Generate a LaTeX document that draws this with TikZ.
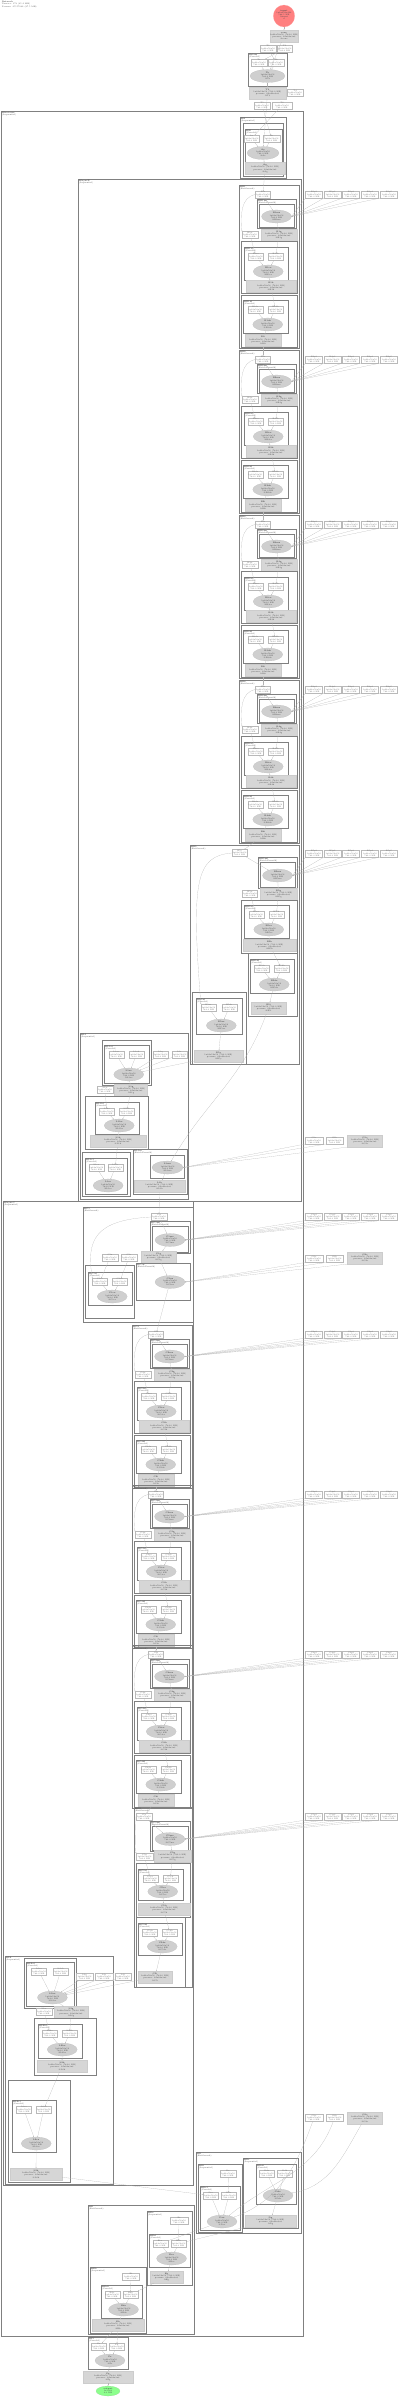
\documentclass[tikz,border=0pt]{standalone}
\usetikzlibrary{shapes.geometric,arrows.meta}
\tikzset{lbl/.style={font=\fontsize{2}{2.2}\selectfont,inner sep=0.3pt,align=center,text=black!70},
    wbox/.style={lbl,rectangle,draw=gray!55,fill=white,line width=0.12pt,text=black!55,
    minimum height=7pt,minimum width=#1pt},wbox/.default=16,
    gbox/.style={lbl,rectangle,draw=gray!40,fill=gray!32,line width=0.12pt,
    minimum height=12pt,minimum width=#1pt},gbox/.default=36,
    opnode/.style={lbl,ellipse,draw=gray!55,fill=gray!38,line width=0.12pt,
    inner sep=0pt,minimum height=13pt,minimum width=#1pt},opnode/.default=30,
    clus/.style={draw=black!50,line width=0.4pt},
    clabel/.style={lbl,anchor=north west,align=left,inner sep=0.6pt},
    edge/.style={-{Stealth[length=1pt,width=0.8pt]},draw=gray!60,line width=0.15pt}}
% boxes, ellipses and clusters
\newcommand{\wb}[4]{\node[wbox=#4] (#1) at (#2,#3) {#1\\1x64x56x56\\784.0 KB};}
\newcommand{\gb}[4]{\node[gbox=#4] (#1) at (#2,#3) {\textbf{#1}\\1x64x56x56 (784.0 KB)\\params: 64x64x3x3\\@#1};}
\newcommand{\op}[4]{\node[opnode=#4] (#1) at (#2,#3) {\textbf{#1}\\1x64x56x56\\784.0 KB\\@#1};}
\newcommand{\clu}[6]{\draw[clus] (#2,#3) rectangle (#4,#5);
    \node[clabel] (#1) at (#2,#3) {\textbf{@#1}\\(#6)};}
\newcommand{\convu}[5]{%
    \pgfmathsetmacro\cua{(#2)+0.27*((#4)-(#2))}%
    \pgfmathsetmacro\cub{(#2)+0.72*((#4)-(#2))}%
    \pgfmathsetmacro\cuy{(#3)+9.5}%
    \pgfmathsetmacro\cux{(#2)+0.55*((#4)-(#2))}%
    \pgfmathsetmacro\cue{(#5)-8.5}%
    \clu{#1l}{#2}{#3}{#4}{#5}{Conv2d}%
    \wb{#1a}{\cua}{\cuy}{15}\wb{#1b}{\cub}{\cuy}{15}%
    \op{#1e}{\cux}{\cue}{30}%
    \draw[edge] (#1a) -- (#1e);\draw[edge] (#1b) -- (#1e);}
\newcommand{\ellu}[5]{%
    \pgfmathsetmacro\eux{((#2)+(#4))/2}\pgfmathsetmacro\euy{((#3)+(#5))/2+3}%
    \clu{#1l}{#2}{#3}{#4}{#5}{BatchNorm2d}%
    \draw[clus] (#2+2,#3+5) rectangle (#4-2,#5-1);%
    \op{#1e}{\eux}{\euy}{30}}
\newcommand{\prow}[3]{%
    \foreach \px [count=\pn] in {314,332.5,351,370,389}{%
    \wb{#1\pn}{\px}{#2}{17}\draw[edge] (#1\pn.south west) -- (#3.east);}}
\newcommand{\block}[3]{%
    \clu{#1}{#2}{#3}{#2+60}{#3+163}{Bottleneck}%
    \wb{#1s}{#2+24}{#3+9.5}{15}%
    \ellu{#1m}{#2+18}{#3+14}{#2+57}{#3+43}%
    \prow{#1p}{#3+9.5}{#1me}%
    \gb{#1g}{#2+40}{#3+50}{36}\wb{#1w}{#2+11}{#3+50}{16}%
    \draw[clus] (#2+2,#3+56) rectangle (#2+58,#3+108);%
    \convu{#1c}{#2+5}{#3+62}{#2+49}{#3+95}%
    \gb{#1h}{#2+32}{#3+101.5}{50}%
    \draw[clus] (#2+2,#3+110) rectangle (#2+58,#3+162);%
    \convu{#1d}{#2+4}{#3+115}{#2+49}{#3+148}%
    \gb{#1i}{#2+24}{#3+155.5}{36}%
    \draw[edge] (#1s) -- (#1me);\draw[edge] (#1me) -- (#1g);
    \draw[edge] (#1s.west) to[out=190,in=95] (#1w.north west);
    \draw[edge] (#1g) -- (#1cb);\draw[edge] (#1w) -- (#1ca);
    \draw[edge] (#1ce) -- (#1h);\draw[edge] (#1h) -- (#1db);
    \draw[edge] (#1de) -- (#1i);}
\begin{document}
\begin{tikzpicture}[x=1pt,y=-1pt]
    \useasboundingbox (0,0) rectangle (400,2397);
    \node[clabel] (legend) at (1,0.5) {\textbf{Network}\\Tensors: 173 (45.2 MB)\\Params: 25557032 (97.5 MB)};
    % stem
    \node[opnode=18,minimum height=22pt,fill=red!50,draw=red!35] (input) at (284,16)
        {\textbf{input}\\1x3x224x224\\588.1 KB\\@input\\x\\ };
    \gb{conv}{284}{36}{28}
    \wb{T1}{268}{48.5}{16}\wb{T2}{284.5}{48.5}{13}
    \clu{stem}{248}{53}{287}{86}{Conv2d}
    \wb{Ta}{259}{62.5}{16}\wb{Tb}{276}{62.5}{16}
    \op{Te}{267.5}{76}{35}
    \gb{T3}{267.5}{93}{37}\wb{T4}{295}{93}{16}
    \wb{T5}{262}{105.5}{16}\wb{T6}{282}{105.5}{20}
    \draw[edge](input)--(conv);\draw[edge](conv)--(Te);
    \draw[edge](T1)--(Tb);\draw[edge](T2)--(Ta);
    \draw[edge](Ta)--(Te);\draw[edge](Tb)--(Te);\draw[edge](Te)--(T3);
    % outer cluster
    \clu{features}{1}{111}{303}{2336}{Sequential}
    \clu{A}{240}{117}{286}{178}{Sequential}
    \draw[clus](243,123) rectangle (283,176);
    \clu{Al}{245}{129}{282}{162}{Conv2d}
    \wb{Aa}{251.5}{138.5}{11}\wb{Ab}{271.5}{138.5}{17}
    \op{Ae}{263}{153}{32}
    \gb{Ag}{265}{168.5}{40}
    \draw[edge](T5)--(Ab);\draw[edge](T6)--(Aa);\draw[edge](T3)--(Ae);
    \draw[edge](Aa)--(Ae);\draw[edge](Ab)--(Ae);\draw[edge](Ae)--(Ag);
    % layer B
    \clu{layerB}{78}{179}{301}{1201}{Sequential}
    \foreach \k/\y in {1/185,2/350,3/515,4/680}{\block{B\k}{239}{\y}}
    \draw[edge](Ag)--(B1s);
    \foreach \j/\k in {1/2,2/3,3/4}{\draw[edge](B\j i)--(B\k s);}
    \clu{B5}{190}{845}{299}{1064}{Bottleneck}
    \wb{B5s}{239.5}{853}{15}
    \ellu{B5m}{258}{857}{297}{888}
    \prow{B5p}{853.5}{B5me}
    \gb{B5g}{278.5}{894}{37}\wb{B5w}{250}{894}{15}
    \draw[clus](241,900) rectangle (297,953);
    \convu{B5c}{244}{905}{289}{938}
    \gb{B5h}{269.5}{945.5}{53}
    \draw[clus](248,953) rectangle (297,1016);
    \convu{B5d}{250}{959}{294}{993}
    \gb{B5i}{268.5}{1008}{35}
    \draw[clus](192,992) rectangle (246,1064);
    \convu{B5x}{196}{998}{242}{1034}
    \gb{B5y}{218.5}{1056}{49}
    \draw[edge](B4i)--(B5s);\draw[edge](B5s)--(B5me);\draw[edge](B5me)--(B5g);
    \draw[edge](B5s.west) .. controls (196,856) and (191,880) .. (B5xa.north west);
    \draw[edge](B5g)--(B5cb);\draw[edge](B5w)--(B5ca);\draw[edge](B5ce)--(B5h);
    \draw[edge](B5h)--(B5db);\draw[edge](B5de)--(B5i);\draw[edge](B5xe)--(B5y);
    % left part of B
    \clu{L1}{80}{1033}{188}{1199}{Sequential}
    \draw[clus](102,1040) rectangle (151,1085);
    \convu{L1a}{104}{1045}{149}{1083}
    \wb{L1q}{160.5}{1054.5}{15}\wb{L1r}{179.5}{1054.5}{15}
    \gb{L1g}{131}{1090}{33}\wb{L1w}{105}{1090}{16}
    \draw[clus](85,1096) rectangle (148,1149);
    \convu{L1b}{95}{1102}{139}{1134}
    \gb{L1h}{118}{1141}{56}
    \draw[clus](82,1152) rectangle (130,1196);
    \convu{L1c}{85}{1158}{127}{1194}
    \clu{L1m}{133}{1149}{187}{1194}{BatchNorm2d}
    \draw[clus](150,1155) rectangle (184,1178);
    \op{L1me}{167.5}{1167.5}{31}
    \gb{L1k}{159.5}{1186}{51}
    \wb{G1a}{314}{1140.5}{18}\wb{G1b}{334.5}{1140.5}{17}\gb{G1c}{365}{1141}{35}
    \draw[edge](B5y)--(L1ae);\draw[edge](L1q)--(L1ae);\draw[edge](L1r)--(L1ae);
    \draw[edge](B5i) to[out=250,in=60] (L1me);
    \draw[edge](L1ae)--(L1g);\draw[edge](L1g)--(L1bb);\draw[edge](L1w)--(L1ba);
    \draw[edge](L1be)--(L1h);\draw[edge](L1h)--(L1cb);\draw[edge](L1me)--(L1k);
    \foreach \n in {G1a,G1b,G1c}{\draw[edge](\n.south west)--(L1me.east);}
    % layer C
    \clu{layerC}{3}{1201}{193}{2185}{Sequential}
    \clu{C1}{83}{1207}{193}{1322}{Bottleneck}
    \wb{C1s}{159}{1217}{16}
    \ellu{C1m}{150}{1221}{190}{1253}
    \prow{C1p}{1217}{C1me}
    \gb{C1g}{158.5}{1257}{35}
    \wb{C1u}{110}{1257.5}{16}\wb{C1v}{129}{1257.5}{16}
    \clu{C1n}{136}{1263}{190}{1300}{BatchNorm2d}
    \op{C1ne}{170}{1282}{30}
    \draw[clus](85,1265) rectangle (134,1318);
    \convu{C1c}{88}{1272}{132}{1305}
    \wb{G2a}{314}{1259}{18}\wb{G2b}{334.5}{1259}{17}\gb{G2c}{365}{1258}{35}
    \foreach \n in {G2a,G2b,G2c}{\draw[edge](\n.south west)--(C1ne.east);}
    \draw[edge](L1k)--(C1s);\draw[edge](C1s)--(C1me);\draw[edge](C1me)--(C1g);
    \draw[edge](C1s.west) .. controls (95,1220) and (86,1240) .. (C1ca.north west);
    \draw[edge](C1u)--(C1ca);\draw[edge](C1v)--(C1cb);\draw[edge](C1g)--(C1ne);
    \foreach \k/\y in {2/1325,3/1485,4/1645}{\block{C\k}{132}{\y}}
    \draw[edge](C1ne)--(C2s);
    \foreach \j/\k in {2/3,3/4}{\draw[edge](C\j i)--(C\k s);}
    \clu{C5}{134}{1807}{192}{1987}{Bottleneck}
    \wb{C5s}{144}{1816.5}{16}
    \ellu{C5m}{150}{1821}{190}{1851}
    \prow{C5p}{1816.5}{C5me}
    \wb{C5w}{144.5}{1856.5}{17}\gb{C5g}{172.5}{1856.5}{37}
    \draw[clus](136,1863) rectangle (190,1917);
    \convu{C5c}{138}{1869}{183}{1900}
    \gb{C5h}{164}{1909}{52}
    \draw[clus](136,1917) rectangle (185,1987);
    \convu{C5d}{138}{1923}{182}{1955}
    \gb{C5i}{155}{1977}{34}
    \draw[edge](C4i)--(C5s);\draw[edge](C5s)--(C5me);\draw[edge](C5me)--(C5g);
    \draw[edge](C5s.west) .. controls (136,1825) and (135,1840) .. (C5w.north west);
    \draw[edge](C5g)--(C5cb);\draw[edge](C5w)--(C5ca);\draw[edge](C5ce)--(C5h);
    \draw[edge](C5h)--(C5db);\draw[edge](C5de)--(C5i);
    % left part of C
    \clu{L2}{5}{1956}{113}{2184}{Sequential}
    \draw[clus](24,1958) rectangle (76,2008);
    \convu{L2a}{26}{1962}{74}{2006}
    \wb{L2q}{84.5}{1977}{17}\wb{L2r}{104}{1977}{18}\wb{L2t}{123}{1977}{16}
    \gb{L2g}{71}{2012.5}{34}\wb{L2w}{44}{2011.5}{16}
    \draw[clus](34,2018) rectangle (96,2075);
    \convu{L2b}{38}{2024}{82}{2058}
    \gb{L2h}{62}{2066}{50}
    \draw[clus](8,2080) rectangle (70,2182);
    \convu{L2c}{12}{2100}{56}{2152}
    \gb{L2k}{36}{2174}{52}
    \draw[edge](L2q)--(L2ae);\draw[edge](L2r)--(L2ae);\draw[edge](L2t)--(L2ae);
    \draw[edge](C5i)--(L2ae);\draw[edge](L2ae)--(L2g);\draw[edge](L2g)--(L2bb);
    \draw[edge](L2w)--(L2ba);\draw[edge](L2be)--(L2h);\draw[edge](L2h)--(L2cb);
    \draw[edge](L2ce)--(L2k);
    % layer D
    \clu{D}{196}{2152}{301}{2233}{Bottleneck}
    \clu{Dl}{198}{2164}{242}{2232}{Sequential}
    \wb{Ds}{228}{2173.5}{16}
    \convu{Dc}{200}{2186}{240}{2230}
    \clu{Dr}{243}{2158}{298}{2228}{Sequential}
    \convu{Dd}{256}{2164}{296}{2204}
    \gb{Dg}{270.5}{2221}{51}
    \wb{G3a}{314}{2118}{18}\wb{G3b}{334.5}{2118}{17}\gb{G3c}{365}{2118}{35}
    \draw[edge](L2k)--(Dca);\draw[edge](Ds)--(Dcb);\draw[edge](Dde)--(Dg);
    \draw[edge](G3a) to[out=250,in=20] (Dce);\draw[edge](G3b) to[out=250,in=40] (Dce);
    \draw[edge](G3c) to[out=240,in=10] (Dde);
    % layer E
    \clu{E}{88}{2205}{194}{2334}{Bottleneck}
    \clu{Ea}{147}{2211}{192}{2285}{Sequential}
    \wb{Es}{179}{2220.5}{18}
    \convu{Ec}{149}{2234}{190}{2267}
    \gb{Eg}{166.5}{2277}{33}
    \clu{Eb}{90}{2267}{146}{2333}{Sequential}
    \wb{Et}{131}{2276.5}{17}
    \convu{Ed}{101}{2285}{142}{2318}
    \gb{Eh}{118}{2325}{52}
    \draw[edge](Dg)--(Ecb);\draw[edge](Es)--(Ecb);\draw[edge](Dce)--(Eca);
    \draw[edge](Ece)--(Eg);\draw[edge](Eg)--(Edb);\draw[edge](Et)--(Edb);
    \draw[edge](Ede)--(Eh);
    % head
    \convu{F}{88}{2337}{128}{2369}
    \gb{Fg}{108}{2377}{50}
    \node[opnode=24,minimum height=10pt,fill=green!45,draw=green!50!black!40] (output) at (108,2391)
        {\textbf{output}\\1x1000\\4.0 KB};
    \draw[edge](Eh)--(Fa);\draw[edge](Eh)--(Fb);\draw[edge](Fe)--(Fg);\draw[edge](Fg)--(output);
\end{tikzpicture}
\end{document}
